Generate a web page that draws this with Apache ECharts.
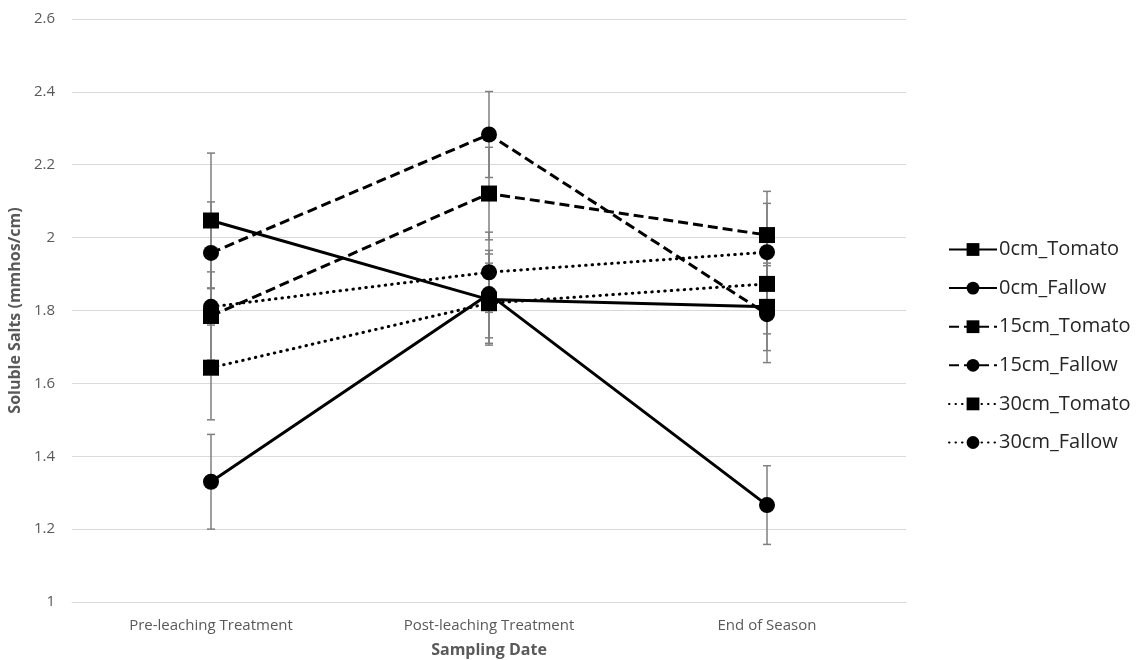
<!DOCTYPE html>
<html>
<head>
<meta charset="utf-8">
<script src="https://cdn.jsdelivr.net/npm/echarts@6/dist/echarts.min.js"></script>
<style>
  html, body { margin: 0; padding: 0; background: #fff; }
  #chart { width: 1137px; height: 660px; }
</style>
</head>
<body>
<div id="chart"></div>
<script>
// Sampling dates on the x axis
const categories = ['Pre-leaching Treatment', 'Post-leaching Treatment', 'End of Season'];
const yTicks = { min: 1, max: 2.6, step: 0.2 };

// Mean soluble salts (mmhos/cm) per depth and treatment
const tomato0  = [2.047, 1.830, 1.810];
const fallow0  = [1.330, 1.845, 1.266];
const tomato15 = [1.785, 2.121, 2.007];
const fallow15 = [1.958, 2.283, 1.790];
const tomato30 = [1.643, 1.820, 1.873];
const fallow30 = [1.810, 1.905, 1.960];

// Error (± value) for each mean
const tomato0Err  = [0.185, 0.125, 0.120];
const fallow0Err  = [0.130, 0.120, 0.108];
const tomato15Err = [0.121, 0.127, 0.120];
const fallow15Err = [0.140, 0.118, 0.133];
const tomato30Err = [0.143, 0.110, 0.137];
const fallow30Err = [0.050, 0.110, 0.134];

const FONT = '"Open Sans", "Noto Sans", sans-serif';

const seriesDefs = [
  { name: '0cm_Tomato',  values: tomato0,  err: tomato0Err,  symbol: 'rect',   dash: 'solid' },
  { name: '0cm_Fallow',  values: fallow0,  err: fallow0Err,  symbol: 'circle', dash: 'solid' },
  { name: '15cm_Tomato', values: tomato15, err: tomato15Err, symbol: 'rect',   dash: [10, 5] },
  { name: '15cm_Fallow', values: fallow15, err: fallow15Err, symbol: 'circle', dash: [10, 5] },
  { name: '30cm_Tomato', values: tomato30, err: tomato30Err, symbol: 'rect',   dash: [0.5, 6] },
  { name: '30cm_Fallow', values: fallow30, err: fallow30Err, symbol: 'circle', dash: [0.5, 6] }
];

// Whiskers: one vertical line with short caps per point
function renderErrorBar(params, api) {
  const x = api.value(0);
  const top = api.coord([x, api.value(2)]);
  const bottom = api.coord([x, api.value(1)]);
  const half = 4;
  const style = { stroke: '#7f7f7f', lineWidth: 1.5 };
  return {
    type: 'group',
    children: [
      { type: 'line', shape: { x1: top[0], y1: top[1], x2: bottom[0], y2: bottom[1] }, style },
      { type: 'line', shape: { x1: top[0] - half, y1: top[1], x2: top[0] + half, y2: top[1] }, style },
      { type: 'line', shape: { x1: bottom[0] - half, y1: bottom[1], x2: bottom[0] + half, y2: bottom[1] }, style }
    ]
  };
}

const series = [];
seriesDefs.forEach(function (d) {
  series.push({
    type: 'custom',
    name: d.name + ' error',
    renderItem: renderErrorBar,
    data: d.values.map(function (v, i) { return [i, v - d.err[i], v + d.err[i]]; }),
    z: 1,
    silent: true
  });
});
seriesDefs.forEach(function (d) {
  series.push({
    type: 'line',
    name: d.name,
    data: d.values,
    symbol: d.symbol,
    symbolSize: 16,
    showAllSymbol: true,
    lineStyle: { color: '#000', width: 3, type: d.dash, cap: d.dash === 'solid' || d.dash[0] > 1 ? 'butt' : 'round' },
    itemStyle: { color: '#000', borderWidth: 0 },
    z: 3
  });
});

const chart = echarts.init(document.getElementById('chart'), null, { renderer: 'canvas' });
chart.setOption({
  animation: false,
  backgroundColor: '#fff',
  textStyle: { fontFamily: FONT },
  grid: { left: 72, right: 231, top: 19, bottom: 58, containLabel: false, outerBoundsMode: 'none' },
  legend: {
    data: seriesDefs.map(function (d) { return d.name; }),
    orient: 'vertical',
    left: 943,
    top: 234.5,
    itemWidth: 48,
    itemHeight: 16,
    itemGap: 18.6,
    textStyle: { fontFamily: FONT, fontSize: 20, color: '#262626', padding: [0, 0, 0, -3] }
  },
  xAxis: {
    type: 'category',
    data: categories,
    boundaryGap: true,
    axisLine: { lineStyle: { color: '#d9d9d9', width: 1 } },
    axisTick: { show: false },
    axisLabel: { color: '#595959', fontSize: 15, fontFamily: FONT, margin: 16 },
    name: 'Sampling Date',
    nameLocation: 'middle',
    nameGap: 40,
    nameTextStyle: { color: '#595959', fontSize: 16, fontWeight: 'bold', fontFamily: FONT }
  },
  yAxis: {
    type: 'value',
    min: yTicks.min,
    max: yTicks.max,
    interval: yTicks.step,
    axisLine: { show: false },
    axisTick: { show: false },
    splitLine: { lineStyle: { color: '#d9d9d9', width: 1 } },
    axisLabel: { color: '#595959', fontSize: 15, fontFamily: FONT, margin: 17 },
    name: 'Soluble Salts (mmhos/cm)',
    nameLocation: 'middle',
    nameGap: 43,
    nameTextStyle: { color: '#595959', fontSize: 16, fontWeight: 'bold', fontFamily: FONT }
  },
  series: series
});
</script>
</body>
</html>
